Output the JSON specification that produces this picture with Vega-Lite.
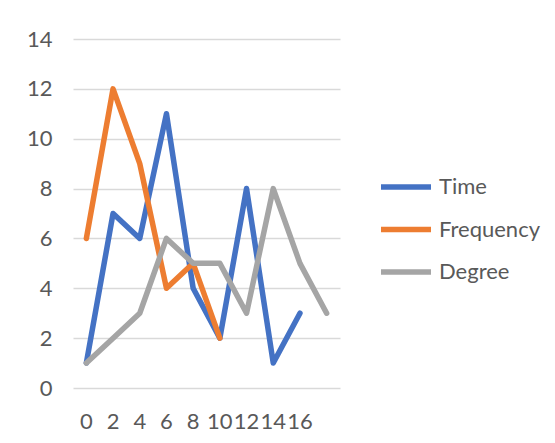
{
  "$schema": "https://vega.github.io/schema/vega-lite/v6.json",
  "width": 267,
  "height": 349,
  "autosize": "none",
  "padding": {"left": 73, "top": 39, "right": 215, "bottom": 55},
  "background": "white",
  "config": {
    "font": "Lato",
    "view": {"stroke": null}
  },
  "data": {
    "values": [
      {"x": "0", "series": "Time", "value": 1},
      {"x": "2", "series": "Time", "value": 7},
      {"x": "4", "series": "Time", "value": 6},
      {"x": "6", "series": "Time", "value": 11},
      {"x": "8", "series": "Time", "value": 4},
      {"x": "10", "series": "Time", "value": 2},
      {"x": "12", "series": "Time", "value": 8},
      {"x": "14", "series": "Time", "value": 1},
      {"x": "16", "series": "Time", "value": 3},
      {"x": "0", "series": "Frequency", "value": 6},
      {"x": "2", "series": "Frequency", "value": 12},
      {"x": "4", "series": "Frequency", "value": 9},
      {"x": "6", "series": "Frequency", "value": 4},
      {"x": "8", "series": "Frequency", "value": 5},
      {"x": "10", "series": "Frequency", "value": 2},
      {"x": "0", "series": "Degree", "value": 1},
      {"x": "2", "series": "Degree", "value": 2},
      {"x": "4", "series": "Degree", "value": 3},
      {"x": "6", "series": "Degree", "value": 6},
      {"x": "8", "series": "Degree", "value": 5},
      {"x": "10", "series": "Degree", "value": 5},
      {"x": "12", "series": "Degree", "value": 3},
      {"x": "14", "series": "Degree", "value": 8},
      {"x": "16", "series": "Degree", "value": 5},
      {"x": "18", "series": "Degree", "value": 3}
    ]
  },
  "mark": {"type": "line", "strokeWidth": 5.5, "strokeJoin": "round", "strokeCap": "round"},
  "encoding": {
    "x": {
      "field": "x",
      "type": "ordinal",
      "sort": ["0", "2", "4", "6", "8", "10", "12", "14", "16", "18"],
      "scale": {"type": "band", "paddingInner": 0, "paddingOuter": 0},
      "axis": {
        "title": null,
        "labelAngle": 0,
        "domain": false,
        "ticks": false,
        "grid": false,
        "labelFontSize": 22,
        "labelColor": "#595959",
        "labelPadding": 23,
        "labelOverlap": false,
        "labelExpr": "datum.value == '18' ? '' : datum.value"
      }
    },
    "y": {
      "field": "value",
      "type": "quantitative",
      "scale": {"domain": [0, 14], "nice": false},
      "axis": {
        "title": null,
        "values": [0, 2, 4, 6, 8, 10, 12, 14],
        "domain": false,
        "ticks": false,
        "grid": true,
        "gridColor": "#D9D9D9",
        "gridWidth": 1.5,
        "labelFontSize": 22,
        "labelColor": "#595959",
        "labelPadding": 21
      }
    },
    "color": {
      "field": "series",
      "type": "nominal",
      "sort": ["Time", "Frequency", "Degree"],
      "scale": {"domain": ["Time", "Frequency", "Degree"], "range": ["#4472C4", "#ED7D31", "#A5A5A5"]},
      "legend": {
        "title": null,
        "orient": "none",
        "legendX": 305,
        "legendY": 120,
        "symbolType": "stroke",
        "symbolSize": 2500,
        "symbolStrokeWidth": 5.5,
        "labelFontSize": 22,
        "labelColor": "#595959",
        "labelOffset": 5,
        "rowPadding": 3.5
      }
    }
  }
}
